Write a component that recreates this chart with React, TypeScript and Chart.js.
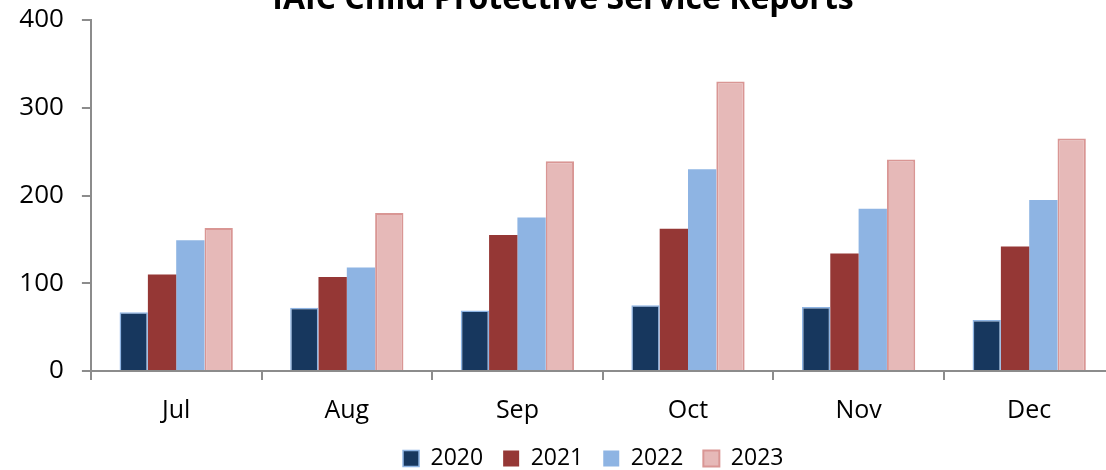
import { useEffect, useRef } from "react";
import { Chart, registerables } from "chart.js";

Chart.register(...registerables);

const titleText = "IAIC Child Protective Service Reports";
const months = ["Jul", "Aug", "Sep", "Oct", "Nov", "Dec"];
const seriesNames = ["2020", "2021", "2022", "2023"];
const values2020 = [67, 72, 69, 75, 73, 58];
const values2021 = [110, 107, 155, 162, 134, 142];
const values2022 = [149, 118, 175, 230, 185, 195];
const values2023 = [163, 180, 239, 330, 241, 265];
const yMin = 0;
const yMax = 400;
const yStep = 100;

const FONT = "'Open Sans', 'Liberation Sans', sans-serif";
const AXIS = "#8c8c8c";

const titlePlugin = {
  id: "clippedTitle",
  afterDraw(chart: any) {
    const ctx = chart.ctx;
    ctx.save();
    ctx.font = `bold 32px ${FONT}`;
    ctx.fillStyle = "#000000";
    ctx.textAlign = "center";
    ctx.textBaseline = "alphabetic";
    ctx.fillText(titleText, 563, 9);
    ctx.restore();
  },
};

const legendShiftPlugin = {
  id: "legendShift",
  afterLayout(chart: any) {
    const lg = chart.legend;
    if (lg) {
      lg.left += 36;
      lg.right += 36;
    }
  },
};

export default function App() {
  const ref = useRef<HTMLCanvasElement | null>(null);

  useEffect(() => {
    if (!ref.current) return;
    document.body.style.overflow = "hidden";
    const chart = new Chart(ref.current, {
      type: "bar",
      data: {
        labels: months,
        datasets: [
          {
            label: seriesNames[0],
            data: values2020,
            backgroundColor: "#17375E",
            borderColor: "#8EB4E3",
            borderWidth: 1.5,
          },
          {
            label: seriesNames[1],
            data: values2021,
            backgroundColor: "#953735",
            borderColor: "#953735",
            borderWidth: 0,
          },
          {
            label: seriesNames[2],
            data: values2022,
            backgroundColor: "#8EB4E3",
            borderColor: "#8EB4E3",
            borderWidth: 0,
          },
          {
            label: seriesNames[3],
            data: values2023,
            backgroundColor: "#E6B9B8",
            borderColor: "#D99694",
            borderWidth: 2,
          },
        ],
      },
      options: {
        responsive: false,
        animation: false,
        layout: { padding: { left: 0, right: 15.5, top: 20, bottom: 0 } },
        datasets: {
          bar: { categoryPercentage: 0.664, barPercentage: 1, borderSkipped: "bottom" },
        },
        plugins: {
          title: { display: false },
          tooltip: { enabled: false },
          legend: {
            display: true,
            position: "bottom",
            labels: {
              boxWidth: 16,
              boxHeight: 16,
              padding: 20,
              color: "#000000",
              font: { family: FONT, size: 23 },
            },
          },
        },
        scales: {
          x: {
            grid: {
              offset: true,
              drawOnChartArea: false,
              drawTicks: true,
              tickLength: 9,
              color: AXIS,
              lineWidth: 2,
            },
            border: { display: true, color: AXIS, width: 2 },
            ticks: {
              color: "#000000",
              font: { family: FONT, size: 25 },
              padding: 16,
              maxRotation: 0,
            },
            afterFit(scale: any) {
              scale.height = 56;
              scale.paddingLeft = 0;
              scale.paddingRight = 0;
            },
          },
          y: {
            min: yMin,
            max: yMax,
            grid: {
              drawOnChartArea: false,
              drawTicks: true,
              tickLength: 9,
              color: AXIS,
              lineWidth: 2,
            },
            border: { display: true, color: AXIS, width: 2 },
            ticks: {
              stepSize: yStep,
              color: "#000000",
              font: { family: FONT, size: 26 },
              padding: 18,
            },
            afterFit(scale: any) {
              scale.width = 90.9;
              scale.paddingTop = 0;
              scale.paddingBottom = 0;
            },
          },
        },
      },
      plugins: [titlePlugin, legendShiftPlugin],
    });
    return () => chart.destroy();
  }, []);

  return (
    <div style={{ position: "fixed", left: 0, top: 0, width: 1130, height: 479.7, background: "#ffffff" }}>
      <canvas ref={ref} width={1130} height={480} style={{ display: "block" }} />
    </div>
  );
}
